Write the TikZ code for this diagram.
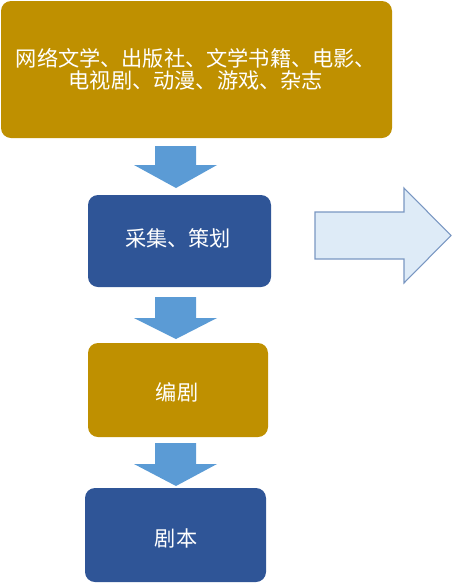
\documentclass[tikz,border=0pt]{standalone}
\usepackage{fontspec}
\newfontfamily\cjk{Noto Sans CJK SC}
\definecolor{gold}{HTML}{BF9000}
\definecolor{dblue}{HTML}{2F5597}
\definecolor{arrblue}{HTML}{5B9BD5}
\definecolor{lblue}{HTML}{DEEBF7}
\definecolor{lborder}{HTML}{7A97C2}
\begin{document}
\begin{tikzpicture}[x=0.75pt,y=-0.75pt,
  txt/.style={font=\cjk\fontsize{15.9}{16.5}\selectfont,text=white,inner sep=0pt,align=center},
  box/.style={rounded corners=7.5pt,inner sep=0pt,text=white,align=center,
    font=\cjk\fontsize{15.9}{16.5}\selectfont},
  goldbox/.style={box,fill=gold},
  bluebox/.style={box,fill=dblue},
  downarrow/.style={fill=arrblue,draw=none},
  bigarrow/.style={fill=lblue,draw=lborder,line width=0.8pt}]
\useasboundingbox (0,0) rectangle (453,583);
\node[goldbox,minimum width=391*0.75pt,minimum height=137*0.75pt] (src) at (196.5,69.5) {};
\node[txt] (srct) at (196,69) {网络文学、出版社、文学书籍、电影、\\电视剧、动漫、游戏、杂志};
\node[bluebox,minimum width=183*0.75pt,minimum height=92*0.75pt] (plan) at (179.5,241) {};
\node[txt] (plant) at (178,238) {采集、策划};
\node[goldbox,minimum width=180*0.75pt,minimum height=94*0.75pt] (write) at (178,390) {};
\node[txt] (writet) at (177,392) {编剧};
\node[bluebox,minimum width=181*0.75pt,minimum height=94*0.75pt] (script) at (175.5,535) {};
\node[txt] (scriptt) at (176,538) {剧本};
% block arrows
\foreach \t/\h/\p in {146/165/188, 297/318/339, 443/464/486}{
  \fill[downarrow] (155,\t) -- (196,\t) -- (196,\h) -- (217,\h) -- (176,\p) -- (134,\h) -- (155,\h) -- cycle;
}
\draw[bigarrow] (315,212) -- (404,212) -- (404,188) -- (451,235.5) -- (404,283) -- (404,259) -- (315,259) -- cycle;
\end{tikzpicture}
\end{document}
